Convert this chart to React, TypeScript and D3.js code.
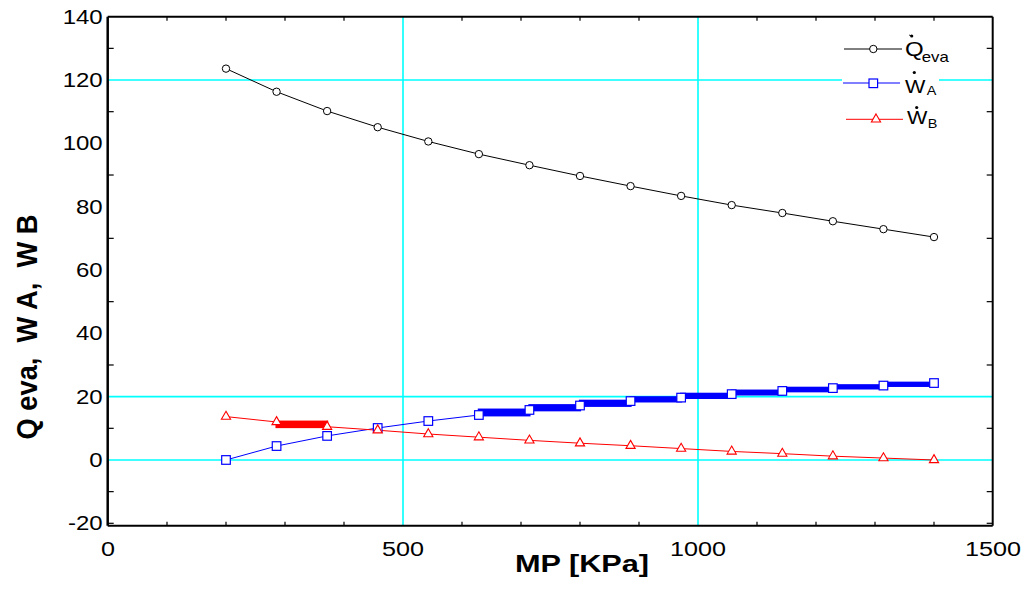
import React from "react";
import * as d3 from "d3";

const mp = [200, 285.7, 371.4, 457.1, 542.9, 628.6, 714.3, 800, 885.7, 971.4, 1057.1, 1142.9, 1228.6, 1314.3, 1400];
const qEva = [123.6, 116.3, 110.2, 105.1, 100.6, 96.6, 93.1, 89.7, 86.5, 83.4, 80.5, 78.0, 75.4, 72.9, 70.4];
const wA = [0, 4.4, 7.6, 10.1, 12.3, 14.2, 15.8, 17.2, 18.6, 19.7, 20.8, 21.8, 22.7, 23.5, 24.3];
const wB = [13.7, 12.0, 10.5, 9.4, 8.2, 7.2, 6.2, 5.3, 4.5, 3.6, 2.7, 2.0, 1.2, 0.6, 0];
// segments (start index) drawn as thick step bands
const bandA = [5, 6, 7, 8, 9, 10, 11, 12, 13];
const bandB = [1];

const xTicksLabel = [0, 500, 1000, 1500];
const yTicksLabel = [-20, 0, 20, 40, 60, 80, 100, 120, 140];
const xGrid = [500, 1000];
const yGrid = [0, 20, 120];
const xMinor = [100, 200, 300, 400, 600, 700, 800, 900, 1100, 1200, 1300, 1400];
const yMinor = [-20, -10, 10, 30, 50, 70, 90, 110, 130];

const FONT = "'Liberation Sans', Arial, Helvetica, sans-serif";
const L = 107.7, R = 992.7, T = 16.7, B = 525.7;

const x = d3.scaleLinear().domain([0, 1500]).range([108, 993]);
const y = d3.scaleLinear().domain([-20, 140]).range([523.3, 16.7]);

function ST({ x: tx, y: ty, sx = 1.2, size, anchor = "start", weight = "normal", children }: any) {
  return (
    <text transform={`translate(${tx},${ty}) scale(${sx},1)`} fontSize={size} fontFamily={FONT}
      textAnchor={anchor} fontWeight={weight} fill="#000">{children}</text>
  );
}

export default function App() {
  const line = d3.line<number>().x((_, i) => x(mp[i])).y((d) => y(d));
  const tri = (cx: number, cy: number) => {
    const w = 4.6, h = 8;
    return `M${cx},${cy - h * 2 / 3}L${cx + w},${cy + h / 3}L${cx - w},${cy + h / 3}Z`;
  };
  const band = (arr: number[], idx: number[], color: string) =>
    idx.map((i) => {
      const y0 = Math.min(y(arr[i]), y(arr[i + 1]));
      const y1 = Math.max(y(arr[i]), y(arr[i + 1]));
      return <rect key={color + i} x={x(mp[i])} y={y0 - 0.3} width={x(mp[i + 1]) - x(mp[i])} height={y1 - y0 + 0.6}
        fill={color} stroke={color} strokeWidth={2.2} />;
    });

  return (
    <svg width={1025} height={592} style={{ position: "absolute", left: 0, top: 0, background: "#fff" }}>
      <rect x={0} y={0} width={1025} height={592} fill="#fff" />
      {/* grid */}
      {xGrid.map((v) => <line key={"gx" + v} x1={x(v)} x2={x(v)} y1={T} y2={B} stroke="#00ffff" strokeWidth={1.6} />)}
      {yGrid.map((v) => <line key={"gy" + v} x1={L} x2={R} y1={y(v)} y2={y(v)} stroke="#00ffff" strokeWidth={1.6} />)}
      {/* minor ticks */}
      {xMinor.map((v) => (
        <g key={"tx" + v}>
          <line x1={x(v)} x2={x(v)} y1={B} y2={B - 4} stroke="#000" strokeWidth={1.2} />
          <line x1={x(v)} x2={x(v)} y1={T} y2={T + 4} stroke="#000" strokeWidth={1.2} />
        </g>
      ))}
      {yMinor.map((v) => (
        <g key={"ty" + v}>
          <line x1={L} x2={L + 6} y1={y(v)} y2={y(v)} stroke="#000" strokeWidth={1.2} />
          <line x1={R} x2={R - 6} y1={y(v)} y2={y(v)} stroke="#000" strokeWidth={1.2} />
        </g>
      ))}
      {/* series lines */}
      <path d={line(qEva) || ""} fill="none" stroke="#000" strokeWidth={1} />
      <path d={line(wA) || ""} fill="none" stroke="#0000ff" strokeWidth={1} />
      <path d={line(wB) || ""} fill="none" stroke="#ff0000" strokeWidth={1} />
      {band(wA, bandA, "#0000ff")}
      {band(wB, bandB, "#ff0000")}
      {/* markers */}
      {qEva.map((v, i) => <circle key={"q" + i} cx={x(mp[i])} cy={y(v)} r={3.7} fill="#fff" stroke="#000" strokeWidth={1} />)}
      {wA.map((v, i) => <rect key={"a" + i} x={x(mp[i]) - 4.3} y={y(v) - 4.3} width={8.6} height={8.6} fill="#fff" stroke="#0000ff" strokeWidth={1.2} />)}
      {wB.map((v, i) => <path key={"b" + i} d={tri(x(mp[i]), y(v))} fill="#fff" stroke="#ff0000" strokeWidth={1.1} />)}
      {/* frame */}
      <line x1={L} x2={R} y1={T} y2={T} stroke="#000" strokeWidth={2} />
      <line x1={L} x2={R} y1={B} y2={B} stroke="#000" strokeWidth={2} />
      <line x1={L} x2={L} y1={T} y2={B} stroke="#000" strokeWidth={2.5} />
      <line x1={R} x2={R} y1={T} y2={B} stroke="#000" strokeWidth={2} />
      {/* tick labels */}
      {yTicksLabel.map((v) => <ST key={"ly" + v} x={102.7} y={y(v) + 7} size={20} anchor="end">{v}</ST>)}
      {xTicksLabel.map((v) => <ST key={"lx" + v} x={x(v)} y={556} size={21} anchor="middle">{v}</ST>)}
      {/* axis titles */}
      <ST x={582} y={572} size={24} sx={1.28} anchor="middle" weight="bold">MP [KPa]</ST>
      <text transform="translate(37,327) rotate(-90)" fontSize={30} fontWeight="bold" fontFamily={FONT}
        textAnchor="middle" textLength={225} lengthAdjust="spacingAndGlyphs" style={{ whiteSpace: "pre" }}>Q eva,  W A,  W B</text>
      {/* legend */}
      <rect x={843} y={32} width={108} height={30} fill="#fff" />
      <rect x={842} y={70} width={97} height={27} fill="#fff" />
      <rect x={845} y={104} width={98} height={27} fill="#fff" />
      <line x1={844} x2={902} y1={49} y2={49} stroke="#000" strokeWidth={1} />
      <circle cx={873.3} cy={49} r={3.7} fill="#fff" stroke="#000" strokeWidth={1} />
      <ST x={905} y={55.5} size={20}>Q</ST>
      <ST x={921.7} y={61.5} size={14}>eva</ST>
      <circle cx={911.7} cy={36} r={1.6} fill="#000" />
      <line x1={909} x2={911.7} y1={35} y2={36} stroke="#000" strokeWidth={0.8} />
      <line x1={843} x2={900} y1={83} y2={83} stroke="#0000ff" strokeWidth={1} />
      <rect x={873.3 - 4.3} y={83.3 - 4.3} width={8.6} height={8.6} fill="#fff" stroke="#0000ff" strokeWidth={1.2} />
      <ST x={905} y={93.3} size={18}>W</ST>
      <ST x={926.7} y={95} size={12}>A</ST>
      <circle cx={914.3} cy={72.5} r={1.6} fill="#000" />
      <line x1={846} x2={903} y1={119.3} y2={119.3} stroke="#ff0000" strokeWidth={1} />
      <path d={tri(876, 119.3)} fill="#fff" stroke="#ff0000" strokeWidth={1.1} />
      <ST x={907} y={124} size={18}>W</ST>
      <ST x={927.7} y={128.3} size={12}>B</ST>
      <circle cx={916.7} cy={107.5} r={1.6} fill="#000" />
    </svg>
  );
}
